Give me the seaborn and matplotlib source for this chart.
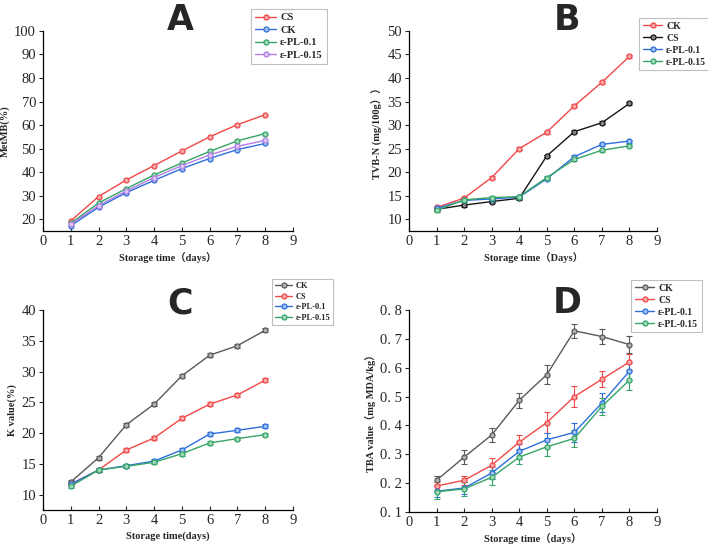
import matplotlib
matplotlib.use('Agg')
import matplotlib.pyplot as plt
import seaborn as sns
import pandas as pd
from matplotlib.ticker import FuncFormatter

sns.set_style('white')
plt.rcParams['font.family'] = ['Liberation Serif', 'Noto Sans CJK SC', 'DejaVu Sans']
plt.rcParams['axes.unicode_minus'] = False

days = [1, 2, 3, 4, 5, 6, 7, 8]

# 图A MetMB
a_groups = ['CS', 'CK', 'ε-PL-0.1', 'ε-PL-0.15']
a_cs = [19.3, 29.6, 36.7, 42.8, 49.0, 55.0, 60.2, 64.4]
a_ck = [17.2, 25.1, 31.3, 36.5, 41.5, 45.8, 49.6, 52.2]
a_pl01 = [18.3, 26.9, 33.0, 38.8, 43.9, 48.8, 53.3, 56.4]
a_pl015 = [17.8, 25.8, 32.0, 37.7, 42.8, 47.3, 51.0, 53.5]

# 图B TVB-N
b_groups = ['CK', 'CS', 'ε-PL-0.1', 'ε-PL-0.15']
b_ck = [12.5, 14.5, 18.85, 25.0, 28.5, 34.1, 39.1, 44.6]
b_cs = [12.1, 13.0, 13.75, 14.45, 23.45, 28.6, 30.5, 34.6]
b_pl01 = [12.3, 14.0, 14.3, 14.7, 18.6, 23.3, 25.9, 26.6]
b_pl015 = [11.9, 14.1, 14.6, 14.8, 18.85, 22.7, 24.65, 25.6]
b_err = [0.3, 0.3, 0.3, 0.3, 0.3, 0.3, 0.3, 0.3]

# 图C K值
c_groups = ['CK', 'CS', 'ε-PL-0.1', 'ε-PL-0.15']
c_ck = [12.05, 16.0, 21.35, 24.7, 29.3, 32.65, 34.2, 36.7]
c_cs = [11.7, 14.0, 17.25, 19.2, 22.4, 24.7, 26.2, 28.6]
c_pl01 = [11.7, 14.0, 14.7, 15.45, 17.25, 19.85, 20.45, 21.1]
c_pl015 = [11.35, 14.0, 14.6, 15.25, 16.65, 18.4, 19.1, 19.75]
c_err = [0.3, 0.3, 0.3, 0.3, 0.3, 0.3, 0.3, 0.3]

# 图D TBA
d_groups = ['CK', 'CS', 'ε-PL-0.1', 'ε-PL-0.15']
d_ck = [0.21, 0.29, 0.367, 0.487, 0.576, 0.728, 0.708, 0.68]
d_cs = [0.19, 0.21, 0.262, 0.342, 0.41, 0.50, 0.56, 0.62]
d_pl01 = [0.172, 0.183, 0.235, 0.31, 0.35, 0.376, 0.478, 0.588]
d_pl015 = [0.17, 0.18, 0.22, 0.29, 0.326, 0.355, 0.466, 0.557]
d_ck_err = [0.015, 0.025, 0.025, 0.025, 0.032, 0.025, 0.027, 0.03]
d_cs_err = [0.015, 0.015, 0.025, 0.025, 0.035, 0.037, 0.027, 0.027]
d_pl01_err = [0.02, 0.02, 0.02, 0.025, 0.025, 0.033, 0.033, 0.03]
d_pl015_err = [0.025, 0.025, 0.025, 0.025, 0.032, 0.03, 0.03, 0.035]

RED = '#f04848'
BLUE = '#2e6fdc'
GREEN = '#35a466'
PURPLE = '#b27ee6'
BLACK = '#161616'
GREY = '#595959'
FACE = {RED: '#f8a8a8', BLUE: '#9ec0f2', GREEN: '#9ed8b6', PURPLE: '#ddc6f6',
        BLACK: '#888888', GREY: '#b0b0b0'}

fig = plt.figure(figsize=(7.08, 5.51), dpi=100)
axA = fig.add_axes([0.0607, 0.5808, 0.3531, 0.3630])
axB = fig.add_axes([0.5777, 0.5808, 0.3503, 0.3630])
axC = fig.add_axes([0.0607, 0.0744, 0.3531, 0.3630])
axD = fig.add_axes([0.5777, 0.0708, 0.3503, 0.3666])


def draw(ax, groups, series, colors, errs=None):
    for i, (g, vals, col) in enumerate(zip(groups, series, colors)):
        df = pd.DataFrame({'day': days, 'val': vals})
        if errs is not None:
            ax.errorbar(days, vals, yerr=errs[i], fmt='none', ecolor=col,
                        elinewidth=0.8, capsize=2.5, capthick=0.8, zorder=2)
        sns.lineplot(data=df, x='day', y='val', ax=ax, color=col, label=g,
                     marker='o', markersize=3.6, markerfacecolor=FACE[col],
                     markeredgecolor=col, markeredgewidth=0.9, linewidth=1.0,
                     zorder=3)


def style(ax, ylim, yticks, ylabel, xlabel, leg_anchor, leg_size):
    ax.set_xlim(0, 9)
    ax.set_ylim(*ylim)
    ax.set_xticks(range(0, 10))
    ax.set_yticks(yticks)
    ax.tick_params(axis='both', labelsize=10.5, width=0.8, bottom=True, left=True)
    ax.tick_params(axis='x', direction='in', length=3, pad=3)
    ax.tick_params(axis='y', direction='out', length=3, pad=2)
    for s in ['top', 'right']:
        ax.spines[s].set_visible(False)
    for s in ['left', 'bottom']:
        ax.spines[s].set_color('black')
        ax.spines[s].set_linewidth(0.9)
    ax.set_xlabel(xlabel, fontsize=7.5, fontweight='bold', labelpad=3)
    ax.set_ylabel(ylabel, fontsize=7.5, fontweight='bold', labelpad=3)
    leg = ax.legend(loc='upper left', bbox_to_anchor=leg_anchor, frameon=True,
                    fancybox=False, prop={'size': leg_size, 'weight': 'bold'},
                    handlelength=2.0, handletextpad=0.4, labelspacing=0.3,
                    borderpad=0.4, borderaxespad=0)
    leg.get_frame().set_edgecolor('#b0b0b0')
    leg.get_frame().set_linewidth(0.8)


draw(axA, a_groups, [a_cs, a_ck, a_pl01, a_pl015], [RED, BLUE, GREEN, PURPLE])
style(axA, (15, 100), range(20, 101, 10), 'MetMB(%)', 'Storage time（days）',
      (0.832, 1.11), 7.5)

draw(axB, b_groups, [b_ck, b_cs, b_pl01, b_pl015], [RED, BLACK, BLUE, GREEN],
     [b_err] * 4)
style(axB, (7.5, 50), range(10, 51, 5), 'TVB-N (mg/100g））',
      'Storage time（Days）', (0.927, 1.065), 7)

draw(axC, c_groups, [c_ck, c_cs, c_pl01, c_pl015], [GREY, RED, BLUE, GREEN],
     [c_err] * 4)
style(axC, (7.5, 40), range(10, 41, 5), 'K value(%)', 'Storage time(days)',
      (0.916, 1.155), 6)

draw(axD, d_groups, [d_ck, d_cs, d_pl01, d_pl015], [GREY, RED, BLUE, GREEN],
     [d_ck_err, d_cs_err, d_pl01_err, d_pl015_err])
style(axD, (0.1, 0.8), [0.1, 0.2, 0.3, 0.4, 0.5, 0.6, 0.7, 0.8],
      'TBA value（mg MDA/kg）', 'Storage time（days）', (0.895, 1.149), 7)
axD.yaxis.set_major_formatter(FuncFormatter(lambda v, p: f'{v:.1f}'.replace('.', '. ')))

for letter, x, y in [('A', 180, 20), ('B', 567, 20), ('C', 180, 303), ('D', 567, 303)]:
    fig.text(x / 708, 1 - y / 551, letter, fontsize=25, fontweight='bold',
             family='DejaVu Sans', ha='center', va='center')

fig.savefig('out.png', dpi=100)
